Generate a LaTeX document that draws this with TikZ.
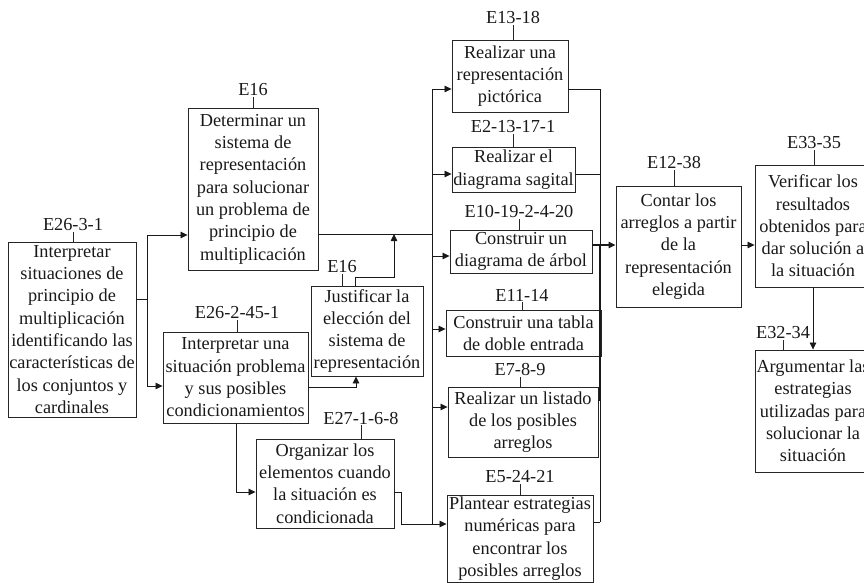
\documentclass[tikz,border=0pt]{standalone}
\usepackage{fontspec}
\setmainfont{Liberation Serif}
\usetikzlibrary{arrows.meta}
\begin{document}
\begin{tikzpicture}[x=1pt,y=-1pt,
  box/.style={draw=black!85, line width=0.9pt, inner sep=0pt, align=center,
              font=\fontsize{18.3}{22.3}\selectfont, text=black!90},
  lab/.style={inner sep=1pt, font=\fontsize{18.3}{22.3}\selectfont, text=black!90},
  tick/.style={line width=0.8pt, black!85},
  wire/.style={line width=0.8pt, black!90},
  arr/.style={wire, -{Triangle[length=7pt,width=6.5pt]}}]
\useasboundingbox (0,0) rectangle (864,583);
\clip (0,0) rectangle (864,583);

% ---------- boxes ----------
\node[box, minimum width=128pt, minimum height=175pt] (A) at (72,329.5)
  {Interpretar\\situaciones de\\principio de\\multiplicación\\identificando las\\características de\\los conjuntos y\\cardinales};
\node[box, minimum width=130pt, minimum height=162pt] (B) at (253,189)
  {Determinar un\\sistema de\\representación\\para solucionar\\un problema de\\principio de\\multiplicación};
\node[box, minimum width=145pt, minimum height=91pt] (C) at (235.5,377.5)
  {Interpretar una\\situación problema\\y sus posibles\\condicionamientos};
\node[box, minimum width=112pt, minimum height=90pt] (D) at (367,331)
  {Justificar la\\elección del\\sistema de\\representación};
\node[box, minimum width=138pt, minimum height=89pt] (E) at (325,483.5)
  {Organizar los\\elementos cuando\\la situación es\\condicionada};
\node[box, minimum width=116pt, minimum height=72pt] (R1) at (510,76)
  {Realizar una\\representación\\pictórica};
\node[box, minimum width=123pt, minimum height=45pt] (R2) at (513.5,169.5)
  {Realizar el\\diagrama sagital};
\node[box, minimum width=142pt, minimum height=43pt] (R3) at (521,251.5)
  {Construir un\\diagrama de árbol};
\node[box, minimum width=155pt, minimum height=46pt] (R4) at (523.5,333)
  {Construir una tabla\\de doble entrada};
\node[box, minimum width=150pt, minimum height=70pt] (R5) at (523,422)
  {Realizar un listado\\de los posibles\\arreglos};
\node[box, minimum width=146pt, minimum height=87pt] (R6) at (520,538.5)
  {Plantear estrategias\\numéricas para\\encontrar los\\posibles arreglos};
\node[box, minimum width=125pt, minimum height=121pt] (K) at (678.5,246.5)
  {Contar los\\arreglos a partir\\de la\\representación\\elegida};
\node[box, minimum width=116pt, minimum height=122pt] (V) at (813,226)
  {Verificar los\\resultados\\obtenidos para\\dar solución a\\la situación};
\node[box, minimum width=116pt, minimum height=122pt] (G) at (813,411)
  {Argumentar las\\estrategias\\utilizadas para\\solucionar la\\situación};

% ---------- code labels with their ticks ----------
\node[lab] (Al) at (73,225) {E26-3-1};
\node[lab] (Bl) at (253,90) {E16};
\node[lab] (Cl) at (237,313) {E26-2-45-1};
\node[lab] (Dl) at (342,267) {E16};
\node[lab] (El) at (361,418) {E27-1-6-8};
\node[lab] (R1l) at (513,18) {E13-18};
\node[lab] (R2l) at (513,127) {E2-13-17-1};
\node[lab] (R3l) at (519,212) {E10-19-2-4-20};
\node[lab] (R4l) at (522,295) {E11-14};
\node[lab] (R5l) at (520,370) {E7-8-9};
\node[lab] (R6l) at (520,477) {E5-24-21};
\node[lab] (Kl) at (674,163) {E12-38};
\node[lab] (Vl) at (814,143) {E33-35};
\node[lab] (Gl) at (783,333) {E32-34};

\foreach \l/\b in {Al/A, Bl/B, Cl/C, Dl/D, El/E, R1l/R1, R2l/R2, R3l/R3,
                   R4l/R4, R5l/R5, R6l/R6, Kl/K, Vl/V, Gl/G}
  \draw[tick] (\l.south) -- (\l.south |- \b.north);

% ---------- connectors on the left ----------
\coordinate (ja) at (147,299);
\coordinate (a1) at (147,235);
\coordinate (a2) at (147,386);
\draw[wire] (ja -| A.east) -- (ja);
\draw[arr] (ja) -- (a1) -- (a1 -| B.west);
\draw[arr] (ja) -- (a2) -- (a2 -| C.west);

\coordinate (c1) at (356,387);
\draw[arr] (c1 -| C.east) -- (c1) -- (c1 |- D.south);

\coordinate (c2) at (236,492);
\draw[arr] (c2 |- C.south) -- (c2) -- (c2 -| E.west);

% left bus feeding the representations
\coordinate (bj) at (432,234);
\coordinate (lb1) at (432,89);
\coordinate (lb2) at (432,174);
\coordinate (lb3) at (432,256);
\coordinate (lb4) at (432,329);
\coordinate (lb5) at (432,407);
\coordinate (lb6) at (432,524);
\draw[wire] (bj -| B.east) -- (bj);
\draw[wire] (lb1) -- (lb6);

\coordinate (d1) at (355,277);
\coordinate (d2) at (394,277);
\draw[arr] (d1 |- D.north) -- (d1) -- (d2) -- (d2 |- bj);

\coordinate (e1) at (401,492);
\coordinate (e2) at (401,524);
\draw[wire] (e1 -| E.east) -- (e1) -- (e2) -- (lb6);

\draw[arr] (lb1) -- (lb1 -| R1.west);
\draw[arr] (lb2) -- (lb2 -| R2.west);
\draw[arr] (lb3) -- (lb3 -| R3.west);
\draw[arr] (lb4) -- (lb4 -| R4.west);
\draw[arr] (lb5) -- (lb5 -| R5.west);
\draw[arr] (lb6) -- (lb6 -| R6.west);

% right bus collecting the representations
\coordinate (rb1) at (600,89);
\coordinate (rb2) at (600,174);
\coordinate (rk)  at (600,245);
\coordinate (rb4) at (600,329);
\coordinate (rb5) at (600,400);
\coordinate (rb6) at (600,522);
\draw[wire] (rb1) -- (rb6);
\draw[wire, line width=1.5pt] (rk) -- (rb5);
\draw[wire] (rb1 -| R1.east) -- (rb1);
\draw[wire] (rb2 -| R2.east) -- (rb2);
\draw[wire] (rb4 -| R4.east) -- (rb4);
\draw[wire] (rb5 -| R5.east) -- (rb5);
\draw[wire] (rb6 -| R6.east) -- (rb6);
\draw[arr, line width=1.3pt] (rk -| R3.east) -- (rk -| K.west);

% ---------- connectors on the right ----------
\draw[arr] (rk -| K.east) -- (rk -| V.west);
\draw[arr] (V.south) -- (G.north);
\end{tikzpicture}
\end{document}
